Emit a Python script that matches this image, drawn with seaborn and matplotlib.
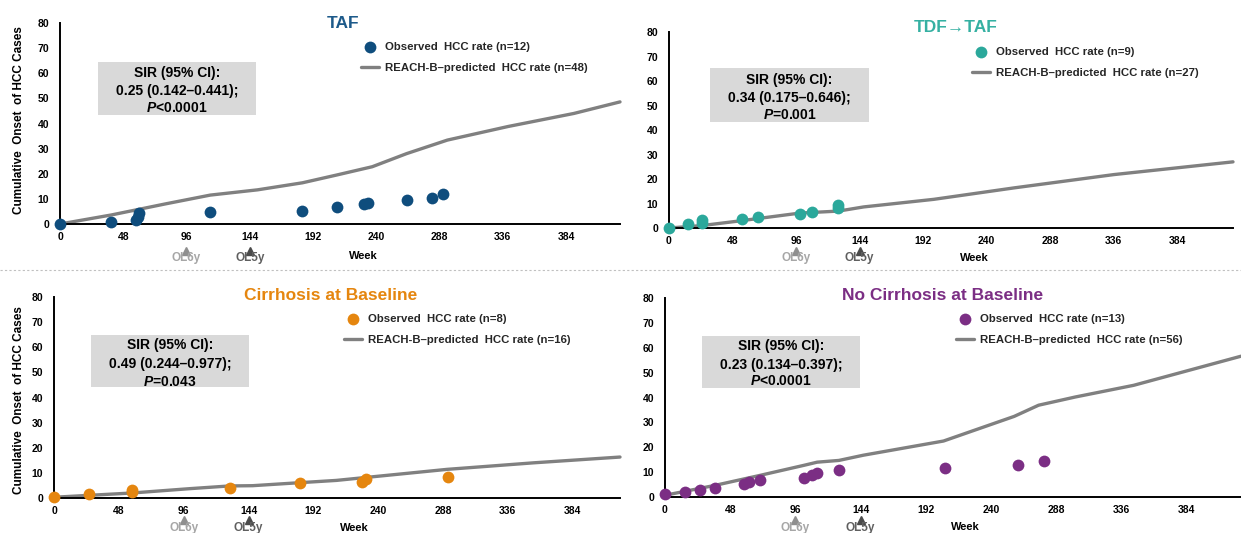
import matplotlib
matplotlib.use("Agg")
import matplotlib.pyplot as plt
import seaborn as sns
from matplotlib.patches import Rectangle
from matplotlib.lines import Line2D
from matplotlib import transforms

# ---------------- data ----------------
week_ticks = [0, 48, 96, 144, 192, 240, 288, 336, 384]
y_ticks = [0, 10, 20, 30, 40, 50, 60, 70, 80]

taf_obs_wk = [0, 39, 58, 59, 60, 114, 184, 210, 231, 234, 263, 282, 291]
taf_obs = [0, 0.9, 1.6, 2.9, 4.2, 4.8, 5.3, 6.6, 7.9, 8.5, 9.5, 10.5, 11.8]
taf_pred_wk = [0, 39, 80, 114, 150, 184, 210, 237, 263, 294, 340, 390, 425]
taf_pred = [0, 3.6, 8.0, 11.5, 13.6, 16.4, 19.5, 22.8, 28.0, 33.4, 38.8, 44.0, 48.6]

tdf_obs_wk = [0, 14, 25, 25, 55, 67, 99, 108, 128, 128]
tdf_obs = [0, 1.5, 2.2, 3.3, 3.8, 4.5, 5.9, 6.5, 8.2, 9.2]
tdf_pred_wk = [0, 25, 52, 99, 128, 147, 200, 261, 336, 426]
tdf_pred = [0, 1.0, 2.8, 6.1, 6.9, 8.6, 11.7, 16.4, 21.8, 27.0]

cir_obs_wk = [0, 26, 58, 58, 130, 182, 228, 231, 292]
cir_obs = [0.4, 1.7, 2.4, 3.3, 4.1, 6.0, 6.4, 7.7, 8.4]
cir_pred_wk = [0, 58, 100, 130, 147, 182, 209, 235, 291, 355, 419]
cir_pred = [0.3, 2.0, 3.7, 4.8, 4.9, 6.1, 7.0, 8.4, 11.4, 14.0, 16.3]

nc_obs_wk = [0, 15, 26, 37, 58, 62, 70, 102, 108, 112, 128, 206, 260, 279]
nc_obs = [1.3, 2.0, 2.9, 3.8, 5.4, 6.2, 7.0, 7.8, 8.8, 9.7, 10.7, 11.8, 13.0, 14.3]
nc_pred_wk = [0, 37, 70, 102, 112, 128, 146, 205, 257, 275, 302, 345, 424]
nc_pred = [0.7, 4.7, 8.7, 12.7, 14.0, 14.7, 16.8, 22.5, 32.4, 36.9, 40.2, 44.9, 56.6]

titles = ["TAF", "TDF\u2192TAF", "Cirrhosis at Baseline", "No Cirrhosis at Baseline"]
obs_labels = ["Observed  HCC rate (n=12)", "Observed  HCC rate (n=9)",
              "Observed  HCC rate (n=8)", "Observed  HCC rate (n=13)"]
pred_labels = ["REACH-B\u2013predicted  HCC rate (n=48)", "REACH-B\u2013predicted  HCC rate (n=27)",
               "REACH-B\u2013predicted  HCC rate (n=16)", "REACH-B\u2013predicted  HCC rate (n=56)"]
sir_lines = [
    ["SIR (95% CI):", "0.25 (0.142\u20130.441);", "$P$<0.0001"],
    ["SIR (95% CI):", "0.34 (0.175\u20130.646);", "$P$=0.001"],
    ["SIR (95% CI):", "0.49 (0.244\u20130.977);", "$P$=0.043"],
    ["SIR (95% CI):", "0.23 (0.134\u20130.397);", "$P$<0.0001"],
]
ol_weeks = [96, 144]
ol_labels = ["OL6y", "OL5y"]
ylabel_text = "Cumulative  Onset  of HCC Cases"
xlabel_text = "Week"

colors = ["#0f4d7d", "#2ba89b", "#e5860f", "#7b2e84"]
title_colors = ["#1d5a8a", "#35b0a2", "#e5860f", "#7b2e84"]

# ---------------- style ----------------
sns.set_theme(style="white")
plt.rcParams["font.family"] = ["Liberation Sans", "DejaVu Sans"]
plt.rcParams["mathtext.fontset"] = "custom"
plt.rcParams["mathtext.it"] = "Liberation Sans:italic:bold"
plt.rcParams["mathtext.rm"] = "Liberation Sans:bold"
plt.rcParams["mathtext.bf"] = "Liberation Sans:bold"

W, H = 1241, 533
fig = plt.figure(figsize=(W / 100, H / 100), dpi=100)


def fx(p):
    return p / W


def fy(p):
    return 1 - p / H


# layout in pixels (left, right, top(80), bottom(0))
layouts = [
    dict(ax=(60, 620, 23, 224), title=(343, 23), leg=(361, 42), box=(98, 256, 62, 115),
         sir_y=(73, 91, 108), week=(363, 256), tri_y=251, ol_y=258, ylab=(19, 120)),
    dict(ax=(669, 1233, 32, 228), title=(956, 28), leg=(972, 47), box=(710, 869, 68, 122),
         sir_y=(80, 98, 115), week=(974, 258), tri_y=251, ol_y=258, ylab=None),
    dict(ax=(54, 620, 297, 498), title=(331, 295), leg=(344, 314), box=(91, 249, 335, 387),
         sir_y=(345, 364, 382), week=(354, 528), tri_y=520, ol_y=528, ylab=(19, 400)),
    dict(ax=(665, 1241, 298, 497), title=(943, 295), leg=(956, 314), box=(702, 860, 336, 388),
         sir_y=(346, 365, 381), week=(965, 527), tri_y=520, ol_y=528, ylab=None),
]

data = [
    (taf_obs_wk, taf_obs, taf_pred_wk, taf_pred),
    (tdf_obs_wk, tdf_obs, tdf_pred_wk, tdf_pred),
    (cir_obs_wk, cir_obs, cir_pred_wk, cir_pred),
    (nc_obs_wk, nc_obs, nc_pred_wk, nc_pred),
]

ol_text_colors = ["#a6a6a6", "#5f5f5f"]
ol_tri_colors = ["#8f8f8f", "#4a4a4a"]

for i, (lay, (ow, ov, pw, pv)) in enumerate(zip(layouts, data)):
    l, r, t, b = lay["ax"]
    ax = fig.add_axes([fx(l), fy(b), (r - l) / W, (b - t) / H])
    sns.lineplot(x=pw, y=pv, ax=ax, color="#808080", linewidth=2.4,
                 label=pred_labels[i], zorder=2)
    sns.scatterplot(x=ow, y=ov, ax=ax, color=colors[i], s=72, linewidth=0,
                    label=obs_labels[i], zorder=3)
    for coll in ax.collections:
        coll.set_clip_on(False)
    for ln in ax.lines:
        ln.set_clip_on(False)
    ax.set_xlim(0, max(pw))
    ax.set_ylim(0, 80)
    ax.set_xticks(week_ticks)
    ax.set_yticks(y_ticks)
    ax.set_xlabel("")
    ax.set_ylabel("")
    ax.tick_params(axis="both", length=0, labelsize=7.5, colors="#000000")
    ax.tick_params(axis="x", pad=6)
    ax.tick_params(axis="y", pad=8)
    for lbl in ax.get_xticklabels() + ax.get_yticklabels():
        lbl.set_fontweight("bold")
    for s in ["top", "right"]:
        ax.spines[s].set_visible(False)
    for s in ["left", "bottom"]:
        ax.spines[s].set_color("#000000")
        ax.spines[s].set_linewidth(1.4)
    ax.set_facecolor("none")

    handles, labels = ax.get_legend_handles_labels()
    hmap = dict(zip(labels, handles))
    ax.legend(handles=[hmap[obs_labels[i]], hmap[pred_labels[i]]],
              labels=[obs_labels[i], pred_labels[i]],
              loc="upper left", bbox_to_anchor=(fx(lay["leg"][0]), fy(lay["leg"][1])),
              bbox_transform=fig.transFigure, frameon=False,
              prop=dict(weight="bold", size=8.2), handlelength=1.6, handletextpad=0.5,
              labelspacing=1.0, borderpad=0, borderaxespad=0)

    # title
    fig.text(fx(lay["title"][0]), fy(lay["title"][1]), titles[i], ha="center", va="center",
             fontsize=12.5, fontweight="bold", color=title_colors[i])

    # SIR box
    x0, x1, y0, y1 = lay["box"]
    fig.add_artist(Rectangle((fx(x0), fy(y1)), (x1 - x0) / W, (y1 - y0) / H,
                             transform=fig.transFigure, facecolor="#d9d9d9",
                             edgecolor="none", zorder=1))
    cx = (x0 + x1) / 2
    for txt, yy in zip(sir_lines[i], lay["sir_y"]):
        fig.text(fx(cx), fy(yy), txt, ha="center", va="center", fontsize=10,
                 fontweight="bold", color="#000000", zorder=2)

    # week label
    fig.text(fx(lay["week"][0]), fy(lay["week"][1]), xlabel_text, ha="center", va="center",
             fontsize=8, fontweight="bold", color="#000000")

    # OL markers
    trans = transforms.blended_transform_factory(ax.transData, fig.transFigure)
    for k, (wk, lab) in enumerate(zip(ol_weeks, ol_labels)):
        fig.text(wk, fy(lay["ol_y"]), lab, transform=trans, ha="center", va="center",
                 fontsize=8.5, fontweight="bold", color=ol_text_colors[k])
        ax.plot([wk], [fy(lay["tri_y"])], transform=trans, marker="^", markersize=6,
                color=ol_tri_colors[k], linestyle="none", clip_on=False)

    # y label
    if lay["ylab"] is not None:
        fig.text(fx(lay["ylab"][0]), fy(lay["ylab"][1]), ylabel_text, rotation=90,
                 ha="center", va="center", fontsize=8.5, fontweight="bold", color="#000000")

# divider
fig.add_artist(Line2D([0, 1], [fy(270), fy(270)], transform=fig.transFigure,
                      color="#c0c0c0", linewidth=0.8, linestyle=(0, (2, 2))))

fig.savefig("out.png", dpi=100)
